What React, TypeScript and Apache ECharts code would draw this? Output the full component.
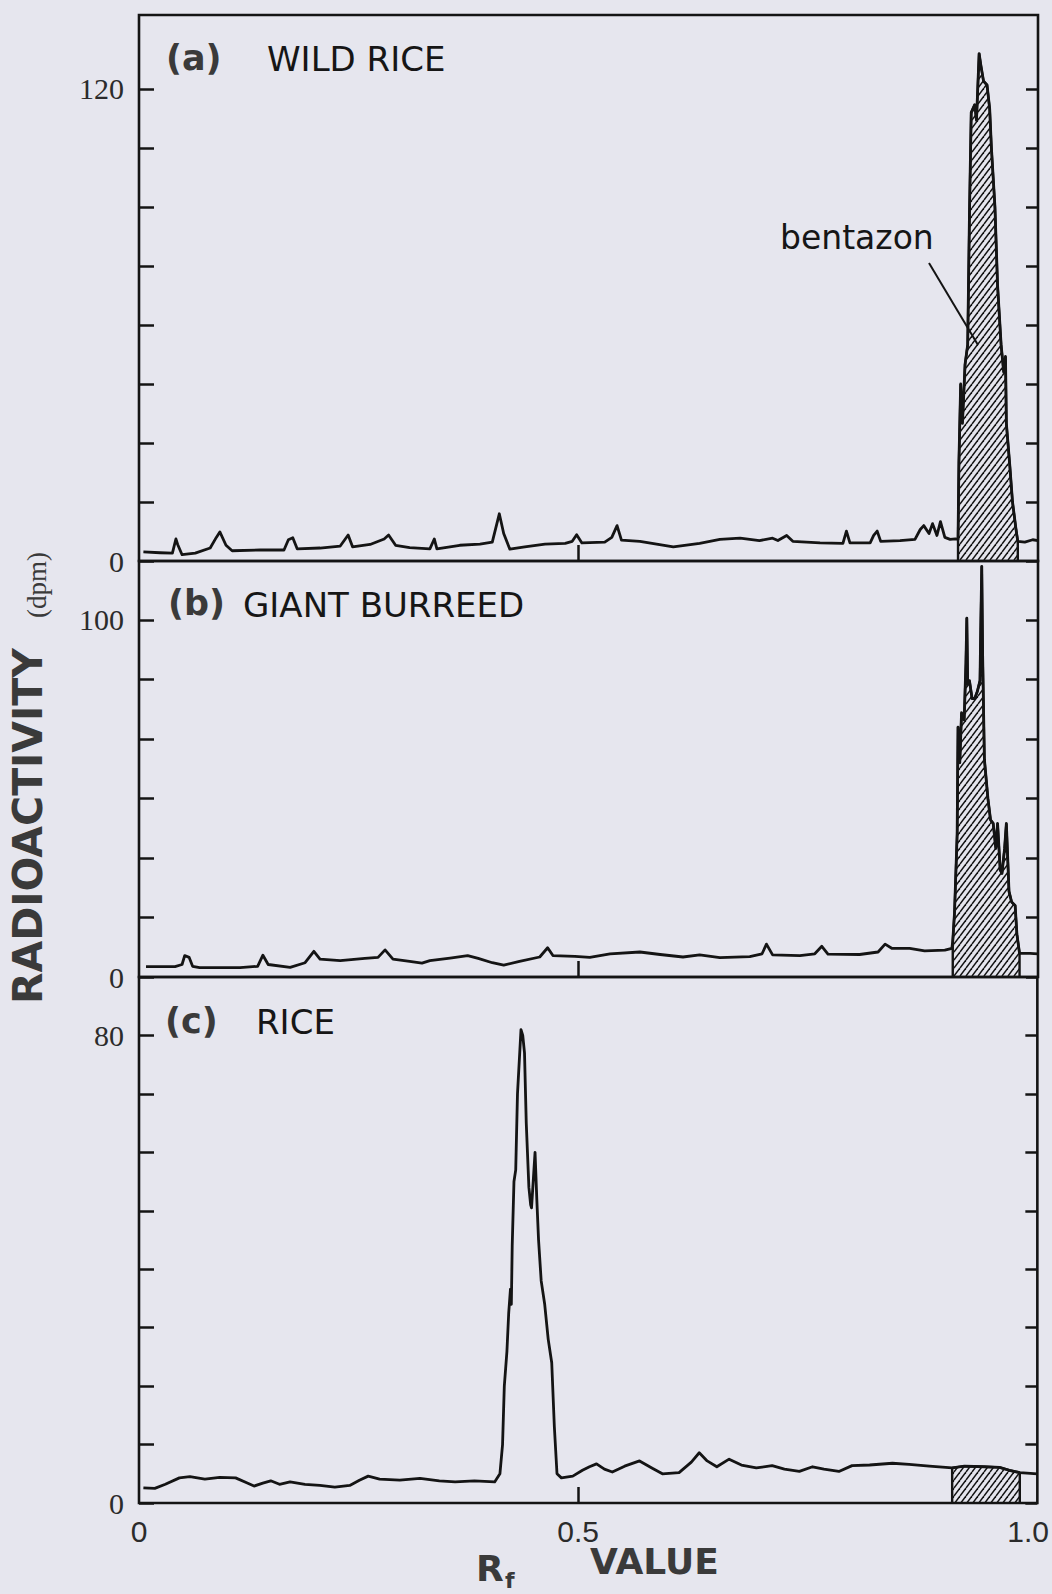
import React, { useEffect, useRef } from "react";
import * as echarts from "echarts";

const PAGE_W = 1052;
const PAGE_H = 1594;
const BG = "#e6e6ee";
const INK = "#141414";

// (a) wild rice: Rf positions and radioactivity (dpm)
const wildRiceRf = [
  0.005, 0.024, 0.038, 0.042, 0.044, 0.049, 0.064, 0.081, 0.088, 0.092, 0.099, 0.106,
  0.138, 0.165, 0.17, 0.175, 0.18, 0.206, 0.229, 0.238, 0.243, 0.263, 0.279, 0.284,
  0.292, 0.308, 0.331, 0.336, 0.339, 0.365, 0.388, 0.402, 0.41, 0.415, 0.422, 0.439,
  0.462, 0.485, 0.493, 0.498, 0.504, 0.53, 0.538, 0.544, 0.549, 0.57, 0.608, 0.638,
  0.661, 0.684, 0.706, 0.721, 0.727, 0.737, 0.744, 0.775, 0.801, 0.805, 0.809, 0.832,
  0.836, 0.84, 0.844, 0.866, 0.883, 0.889, 0.893, 0.899, 0.903, 0.908, 0.912, 0.917,
  0.923, 0.929, 0.932, 0.933, 0.935, 0.937, 0.94, 0.943, 0.945, 0.947, 0.951, 0.953,
  0.956, 0.958, 0.961, 0.965, 0.968, 0.97, 0.974, 0.977, 0.981, 0.984, 0.986, 0.987,
  0.991, 0.994, 0.998, 1.0, 1.008, 1.017, 1.023,
];
const wildRiceDpm = [
  2.3, 2.1, 2.0, 5.6, 4.2, 1.6, 2.0, 3.3, 6.0, 7.4, 4.0, 2.6,
  2.8, 2.8, 5.4, 5.9, 3.1, 3.3, 3.8, 6.6, 3.6, 4.2, 5.6, 6.6,
  4.0, 3.4, 3.1, 5.6, 3.1, 4.0, 4.3, 4.8, 12.0, 7.0, 3.0, 3.6,
  4.3, 4.5, 5.0, 6.7, 4.6, 4.8, 6.0, 9.0, 5.3, 5.0, 3.6, 4.5,
  5.5, 5.8, 5.2, 5.8, 5.2, 6.5, 5.0, 4.6, 4.5, 7.6, 4.6, 4.6,
  6.5, 7.6, 5.0, 5.2, 5.5, 8.0, 9.0, 7.0, 9.5, 6.5, 10.0, 6.0,
  5.5, 5.6, 5.5, 25, 45, 35, 50, 55, 88, 114, 116, 112,
  129, 126, 122, 121, 115, 105, 90, 70, 55, 48, 52, 35,
  24, 15, 8, 5, 4.8, 5.4, 5.2,
];

// (b) giant burreed
const burreedRf = [
  0.008, 0.041, 0.049, 0.052, 0.057, 0.061, 0.069, 0.115, 0.135, 0.141, 0.147, 0.172,
  0.189, 0.199, 0.206, 0.229, 0.257, 0.272, 0.28, 0.289, 0.308, 0.322, 0.331, 0.354,
  0.374, 0.386, 0.402, 0.415, 0.433, 0.456, 0.465, 0.471, 0.496, 0.513, 0.536, 0.57,
  0.593, 0.619, 0.638, 0.661, 0.695, 0.709, 0.714, 0.721, 0.752, 0.769, 0.777, 0.784,
  0.82, 0.841, 0.849, 0.857, 0.877, 0.894, 0.917, 0.925, 0.926, 0.928, 0.931, 0.932,
  0.934, 0.936, 0.939, 0.941, 0.942, 0.943, 0.945, 0.948, 0.951, 0.954, 0.957, 0.958,
  0.959, 0.96, 0.962, 0.966, 0.969, 0.972, 0.975, 0.977, 0.98, 0.982, 0.985, 0.987,
  0.99, 0.993, 0.997, 0.999, 1.002, 1.014, 1.023,
];
const burreedDpm = [
  2.9, 2.9, 3.5, 6.0, 5.5, 3.0, 2.6, 2.6, 3.0, 6.1, 3.5, 2.7,
  4.0, 7.2, 5.0, 4.6, 5.2, 5.5, 7.6, 5.0, 4.4, 3.9, 4.6, 5.3,
  6.0, 5.2, 4.0, 3.3, 4.4, 5.6, 8.2, 6.0, 5.8, 5.5, 6.5, 7.0,
  6.3, 5.6, 6.2, 5.4, 5.7, 6.5, 9.2, 6.2, 6.0, 6.5, 8.6, 6.4,
  6.3, 7.0, 9.2, 8.0, 8.0, 7.3, 7.5, 8.0, 10, 18, 40, 70,
  60, 74, 72, 88, 100.5, 82, 83, 78, 78, 80, 83, 100,
  115, 90, 61, 50, 44, 43, 36, 43, 30, 29, 36, 43,
  24, 21, 20, 12, 6.6, 6.6, 6.5,
];

// (c) rice
const riceRf = [
  0.005, 0.018, 0.03, 0.046, 0.058, 0.075, 0.092, 0.11, 0.122, 0.131, 0.141, 0.15,
  0.16, 0.172, 0.189, 0.206, 0.223, 0.24, 0.251, 0.261, 0.274, 0.297, 0.32, 0.342,
  0.36, 0.382, 0.405, 0.411, 0.414, 0.416, 0.419, 0.421, 0.423, 0.424, 0.425, 0.427,
  0.429, 0.431, 0.435, 0.437, 0.439, 0.441, 0.444, 0.446, 0.447, 0.451, 0.453, 0.455,
  0.458, 0.462, 0.466, 0.47, 0.473, 0.476, 0.481, 0.494, 0.505, 0.513, 0.521, 0.53,
  0.539, 0.553, 0.57, 0.584, 0.596, 0.615, 0.629, 0.638, 0.647, 0.658, 0.672, 0.686,
  0.703, 0.721, 0.735, 0.752, 0.767, 0.78, 0.797, 0.812, 0.832, 0.858, 0.877, 0.9,
  0.926, 0.94, 0.962, 0.98, 0.991, 1.003, 1.023,
];
const riceDpm = [
  2.6, 2.5, 3.2, 4.3, 4.5, 4.1, 4.4, 4.3, 3.5, 2.9, 3.4, 3.8,
  3.2, 3.6, 3.2, 3.0, 2.7, 3.0, 3.9, 4.6, 4.1, 3.9, 4.2, 3.8,
  3.6, 3.8, 3.6, 5, 10, 20, 26, 32.5, 36.6, 34, 44, 55,
  57, 70, 81, 80, 77, 65, 54, 51, 50.5, 60, 52, 45,
  38, 34, 28, 24, 13, 5, 4.3, 4.6, 5.6, 6.2, 6.7, 5.8,
  5.3, 6.3, 7.2, 6.0, 5.0, 5.2, 7.0, 8.6, 7.2, 6.2, 7.5, 6.5,
  6.0, 6.4, 5.8, 5.4, 6.2, 5.8, 5.4, 6.4, 6.5, 6.8, 6.6, 6.3,
  6.0, 6.3, 6.2, 6.1, 5.6, 5.2, 5.0,
];

// Rf band of the bentazon zone on each strip
const bentazonBands = [
  [0.932, 1.0],
  [0.926, 1.002],
  [0.926, 1.003],
];

const panelLetters = ["(a)", "(b)", "(c)"];
const panelNames = ["WILD RICE", "GIANT BURREED", "RICE"];

// vertical scales
const yMax = [138.8, 116.5, 90];
const yTicks = [
  [0, 15, 30, 45, 60, 75, 90, 105, 120],
  [0, 100 / 6, 200 / 6, 50, 400 / 6, 500 / 6, 100],
  [0, 10, 20, 30, 40, 50, 60, 70, 80],
];
const yLabels = [
  [0, 120],
  [0, 100],
  [0, 80],
];

// horizontal scale (Rf)
const RF_MAX = 1.023;
const rfTicks = [0.5];
const rfLabels = [0, 0.5, 1.0];

// strip layout in page pixels
const PLOT_LEFT = 139;
const PLOT_RIGHT = 1038;
const stripTop = [15, 561, 977];
const stripBottom = [561, 977, 1503];

function makeHatch(): HTMLCanvasElement {
  const w = 6;
  const h = 8;
  const c = document.createElement("canvas");
  c.width = w;
  c.height = h;
  const ctx = c.getContext("2d");
  if (ctx) {
    ctx.strokeStyle = INK;
    ctx.lineWidth = 1.5;
    for (const k of [-1, 0, 1]) {
      ctx.beginPath();
      ctx.moveTo(k * w, h);
      ctx.lineTo(k * w + w, 0);
      ctx.stroke();
    }
  }
  return c;
}

function pairs(rf: number[], dpm: number[]): number[][] {
  return rf.map((x, i) => [x, dpm[i]]);
}

function band(rf: number[], dpm: number[], lo: number, hi: number): number[][] {
  const inside = rf
    .map((x, i) => [x, dpm[i]])
    .filter((p) => p[0] >= lo - 1e-9 && p[0] <= hi + 1e-9);
  return [[lo, 0], ...inside, [hi, 0]];
}

function textEl(
  x: number,
  y: number,
  text: string,
  font: string,
  fill: string,
  align: string = "left",
  rotation: number = 0
) {
  return {
    type: "text",
    x,
    y,
    rotation,
    silent: true,
    z: 10,
    style: {
      text,
      font,
      fill,
      align,
      verticalAlign: "middle",
      textAlign: align,
      textVerticalAlign: "middle",
    },
  };
}

export default function App() {
  const ref = useRef<HTMLDivElement>(null);

  useEffect(() => {
    if (!ref.current) return;
    document.body.style.margin = "0";
    document.body.style.background = BG;
    const chart = echarts.init(ref.current, null, { renderer: "svg" });
    const hatch = makeHatch();

    const traces = [
      pairs(wildRiceRf, wildRiceDpm),
      pairs(burreedRf, burreedDpm),
      pairs(riceRf, riceDpm),
    ];
    const sources = [
      [wildRiceRf, wildRiceDpm],
      [burreedRf, burreedDpm],
      [riceRf, riceDpm],
    ];

    const grids = [0, 1, 2].map((i) => ({
      left: PLOT_LEFT,
      right: PAGE_W - PLOT_RIGHT,
      top: stripTop[i],
      height: stripBottom[i] - stripTop[i],
      show: true,
      borderColor: INK,
      borderWidth: 2.6,
      backgroundColor: "transparent",
    }));

    const xAxes = [0, 1, 2].map((i) => ({
      type: "value",
      gridIndex: i,
      min: 0,
      max: RF_MAX,
      axisLine: { show: false },
      splitLine: { show: false },
      axisTick: {
        show: true,
        inside: true,
        length: 16,
        customValues: rfTicks,
        lineStyle: { color: INK, width: 2.5 },
      },
      axisLabel: {
        show: i === 2,
        customValues: rfLabels,
        margin: 13,
        fontFamily: "Liberation Sans",
        fontSize: 30,
        color: "#2b2b2b",
        formatter: (v: number) => (v === 0 ? "0" : v >= 1 ? "{end|1.0}" : v.toFixed(1)),
        rich: {
          end: {
            fontFamily: "Liberation Sans",
            fontSize: 30,
            color: "#2b2b2b",
            padding: [0, 0, 0, 22],
          },
        },
      },
    }));

    const yLeft = [0, 1, 2].map((i) => ({
      type: "value",
      gridIndex: i,
      position: "left",
      min: 0,
      max: yMax[i],
      axisLine: { show: false },
      splitLine: { show: false },
      axisTick: {
        show: true,
        inside: true,
        length: 15,
        customValues: yTicks[i],
        lineStyle: { color: INK, width: 2.5 },
      },
      axisLabel: {
        show: true,
        customValues: yLabels[i],
        margin: 15,
        fontFamily: "Liberation Serif",
        fontSize: 30,
        color: "#2b2b2b",
        formatter: (v: number) => String(Math.round(v)),
      },
    }));

    const yRight = [0, 1, 2].map((i) => ({
      type: "value",
      gridIndex: i,
      position: "right",
      min: 0,
      max: yMax[i],
      axisLine: { show: false },
      splitLine: { show: false },
      axisTick: {
        show: true,
        inside: true,
        length: 12,
        customValues: yTicks[i],
        lineStyle: { color: INK, width: 2.5 },
      },
      axisLabel: { show: false },
    }));

    const hatchFill = {
      image: hatch,
      repeat: "repeat",
      imageWidth: hatch.width,
      imageHeight: hatch.height,
    };

    const series: any[] = [];
    [0, 1, 2].forEach((i) => {
      const [lo, hi] = bentazonBands[i];
      series.push({
        type: "line",
        name: "bentazon " + panelLetters[i],
        xAxisIndex: i,
        yAxisIndex: i,
        data: band(sources[i][0], sources[i][1], lo, hi),
        showSymbol: false,
        symbol: "none",
        silent: true,
        z: 3,
        lineStyle: { color: INK, width: 2.4 },
        areaStyle: { color: hatchFill, opacity: 1, origin: "start" },
      });
      series.push({
        type: "line",
        name: panelNames[i],
        xAxisIndex: i,
        yAxisIndex: i,
        data: traces[i],
        showSymbol: false,
        symbol: "none",
        silent: true,
        z: 4,
        lineStyle: { color: INK, width: 2.8, join: "round" },
      });
    });

    const letterFont = 'bold 35px "DejaVu Sans"';
    const nameFont = '34px "DejaVu Sans"';
    const titleFont = 'bold 36px "DejaVu Sans"';

    const graphic = [
      textEl(166, 58, panelLetters[0], letterFont, "#3a3a3a"),
      textEl(267, 59, panelNames[0], nameFont, "#161616"),
      textEl(168, 603, panelLetters[1], letterFont, "#3a3a3a"),
      textEl(243, 605, panelNames[1], nameFont, "#161616"),
      textEl(165, 1021, panelLetters[2], letterFont, "#3a3a3a"),
      textEl(256, 1022, panelNames[2], nameFont, "#161616"),
      textEl(780, 237, "bentazon", '33px "DejaVu Sans"', "#161616"),
      {
        type: "line",
        silent: true,
        z: 10,
        shape: { x1: 929, y1: 263, x2: 978, y2: 345 },
        style: { stroke: INK, lineWidth: 2 },
      },
      textEl(28, 826, "RADIOACTIVITY", 'bold 41px "DejaVu Sans"', "#3a3a3a", "center", Math.PI / 2),
      textEl(37, 585, "(dpm)", '27px "Liberation Serif"', "#3a3a3a", "center", Math.PI / 2),
      textEl(476, 1568, "R", titleFont, "#3a3a3a"),
      textEl(505, 1580, "f", 'bold 22px "DejaVu Sans"', "#3a3a3a"),
      textEl(590, 1561, "VALUE", titleFont, "#3a3a3a"),
    ];

    chart.setOption({
      animation: false,
      backgroundColor: BG,
      grid: grids,
      xAxis: xAxes,
      yAxis: [...yLeft, ...yRight],
      series,
      graphic,
    });

    return () => {
      chart.dispose();
    };
  }, []);

  return (
    <div
      ref={ref}
      style={{
        position: "absolute",
        left: 0,
        top: 0,
        width: PAGE_W,
        height: PAGE_H,
        background: BG,
      }}
    />
  );
}
